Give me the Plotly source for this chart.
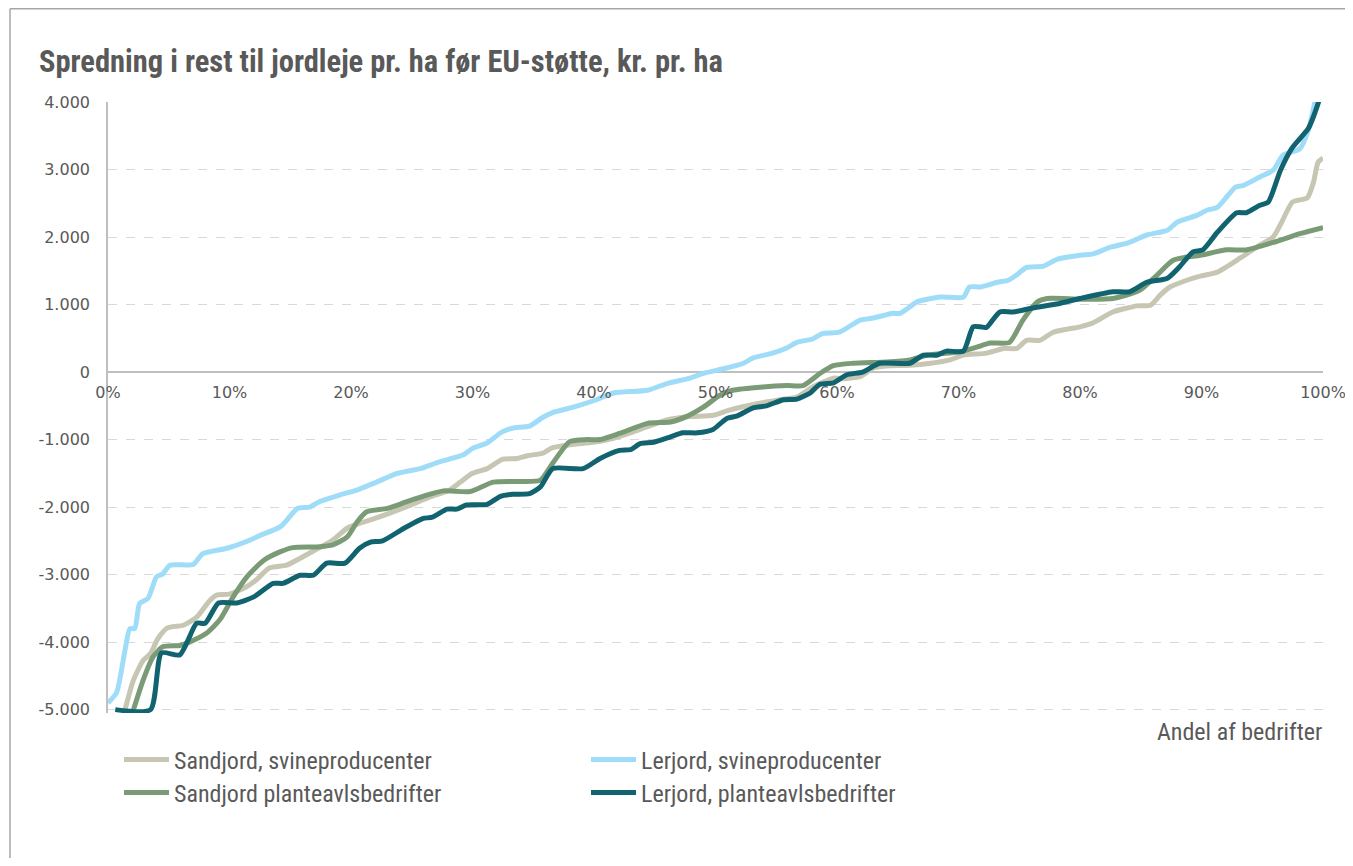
import plotly.graph_objects as go

# ---- data (x = andel af bedrifter in %, y = kr. pr. ha) ----
sand_svin_x = [1.4, 2.1, 2.9, 3.5, 4.1, 4.9, 6.2, 7.3, 8.4, 9.0, 10.0, 11.4, 12.2, 13.3, 14.7, 15.8, 16.9, 18.5, 19.7, 20.7,
               21.6, 23.2, 24.9, 26.5, 28.1, 29.0, 30.0, 31.2, 32.5, 33.7, 34.5, 35.8, 36.6, 38.3, 39.9, 41.6, 44.4, 46.0,
               47.9, 49.8, 51.2, 53.4, 55.3, 56.7, 58.0, 59.7, 60.5, 62.0, 63.0, 64.0, 66.0, 67.7, 69.3, 70.4, 72.3, 73.7,
               74.8, 75.6, 76.7, 77.8, 80.0, 81.1, 82.7, 84.7, 85.8, 86.6, 87.4, 88.8, 89.9, 91.3, 93.2, 94.8, 95.9, 96.6,
               97.5, 98.7, 99.2, 99.6, 100.0]
sand_svin_y = [-5000, -4560, -4270, -4170, -3950, -3790, -3750, -3630, -3380, -3300, -3290, -3180, -3080, -2900, -2860,
               -2760, -2650, -2490, -2310, -2240, -2190, -2090, -1970, -1850, -1750, -1630, -1500, -1430, -1290, -1280,
               -1240, -1200, -1120, -1070, -1040, -980, -810, -710, -660, -640, -560, -470, -410, -370, -220, -90, -100,
               -60, 60, 90, 100, 130, 180, 250, 280, 350, 350, 470, 470, 590, 670, 730, 890, 980, 990, 1140, 1260, 1360,
               1420, 1480, 1690, 1880, 2000, 2220, 2520, 2580, 2800, 3110, 3170]

ler_svin_x = [0.0, 0.7, 1.4, 1.8, 2.2, 2.6, 3.3, 4.0, 4.5, 5.1, 7.0, 7.8, 9.8, 11.4, 12.5, 14.2, 15.6, 16.6, 17.4, 19.1,
              20.6, 22.1, 23.8, 25.7, 27.1, 29.2, 30.0, 31.2, 32.4, 33.3, 34.7, 35.8, 36.6, 38.3, 40.2, 41.6, 44.4, 46.0,
              47.9, 49.0, 50.9, 52.3, 53.1, 54.7, 55.9, 56.7, 58.0, 58.8, 60.2, 61.9, 63.0, 64.6, 65.2, 66.6, 68.5, 70.4,
              70.9, 71.8, 73.2, 74.1, 74.8, 75.6, 77.0, 78.1, 80.0, 81.1, 82.5, 83.9, 85.5, 87.2, 88.0, 89.6, 90.5, 91.3,
              92.1, 92.8, 93.4, 94.8, 95.9, 96.7, 98.1, 98.8, 99.3, 100.0]
ler_svin_y = [-4900, -4750, -4120, -3800, -3800, -3430, -3350, -3030, -2990, -2860, -2850, -2690, -2610, -2510, -2420,
              -2290, -2020, -2000, -1920, -1820, -1740, -1630, -1500, -1430, -1340, -1230, -1130, -1050, -890, -830, -800,
              -670, -600, -520, -410, -310, -270, -170, -90, -20, 60, 130, 210, 280, 360, 440, 490, 570, 590, 770, 800,
              870, 870, 1040, 1110, 1110, 1260, 1260, 1330, 1360, 1440, 1550, 1570, 1670, 1730, 1750, 1850, 1910, 2030,
              2100, 2220, 2320, 2400, 2440, 2600, 2740, 2760, 2890, 2990, 3210, 3310, 3590, 3980, 4800]

sand_plante_x = [2.1, 2.9, 3.7, 4.5, 5.9, 6.7, 8.1, 9.2, 10.3, 11.4, 12.8, 14.2, 15.2, 17.2, 18.5, 19.7, 20.5, 21.3, 23.0,
                 24.6, 26.3, 27.6, 29.8, 31.7, 33.9, 35.6, 36.6, 38.0, 39.4, 40.5, 42.1, 44.4, 46.3, 47.6, 49.0, 50.4,
                 51.4, 53.9, 55.9, 57.2, 58.6, 59.7, 61.3, 64.1, 66.0, 67.4, 70.1, 71.5, 72.6, 74.2, 75.3, 76.5, 77.3,
                 80.0, 82.7, 84.9, 86.3, 87.7, 89.9, 92.1, 93.7, 95.9, 98.1, 100.0]
sand_plante_y = [-5000, -4560, -4220, -4070, -4050, -4000, -3870, -3670, -3330, -3040, -2790, -2660, -2600, -2590, -2560,
                 -2440, -2220, -2070, -2020, -1920, -1820, -1760, -1770, -1630, -1620, -1600, -1350, -1030, -1000, -1000,
                 -910, -760, -740, -660, -520, -340, -270, -220, -200, -200, -20, 95, 130, 150, 180, 250, 300, 370, 430,
                 440, 770, 1040, 1090, 1080, 1090, 1210, 1430, 1660, 1730, 1810, 1810, 1920, 2050, 2140]

ler_plante_x = [0.6, 3.5, 4.4, 5.9, 7.3, 8.0, 9.1, 10.6, 12.0, 13.6, 14.4, 15.8, 16.9, 18.0, 19.5, 20.7, 21.6, 22.6, 24.3,
                25.9, 26.7, 27.9, 28.7, 29.5, 31.2, 32.3, 33.3, 34.7, 35.6, 36.6, 39.1, 40.5, 42.1, 43.0, 43.8, 44.9,
                46.3, 47.3, 48.5, 49.8, 50.9, 51.8, 53.1, 54.2, 55.6, 56.7, 57.8, 58.6, 59.7, 60.8, 62.1, 63.5, 66.0,
                67.1, 68.2, 69.0, 70.4, 71.2, 71.8, 72.3, 73.4, 74.5, 76.1, 78.4, 80.0, 82.7, 84.1, 85.5, 87.2, 88.2,
                89.3, 90.1, 91.3, 92.9, 93.7, 94.8, 95.5, 96.5, 97.5, 98.8, 99.6, 100.0]
ler_plante_y = [-5000, -5000, -4160, -4190, -3720, -3720, -3420, -3420, -3330, -3130, -3130, -3010, -3010, -2830, -2830,
                -2610, -2520, -2500, -2320, -2170, -2150, -2030, -2030, -1970, -1960, -1840, -1810, -1800, -1700, -1430,
                -1430, -1280, -1160, -1150, -1060, -1040, -960, -900, -900, -850, -690, -650, -530, -500, -410, -400,
                -310, -180, -160, -40, 0, 130, 130, 250, 250, 310, 310, 670, 670, 660, 890, 890, 950, 1020, 1090, 1190,
                1190, 1330, 1390, 1560, 1780, 1810, 2070, 2360, 2360, 2470, 2520, 2990, 3330, 3610, 3980, 4300]

series_names = ["Sandjord, svineproducenter", "Lerjord, svineproducenter",
                "Sandjord planteavlsbedrifter", "Lerjord, planteavlsbedrifter"]

y_tick_vals = [4000, 3000, 2000, 1000, 0, -1000, -2000, -3000, -4000, -5000]
y_tick_text = ["4.000", "3.000", "2.000", "1.000", "0", "-1.000", "-2.000", "-3.000", "-4.000", "-5.000"]
x_tick_vals = [0, 10, 20, 30, 40, 50, 60, 70, 80, 90, 100]
x_tick_text = ["0%", "10%", "20%", "30%", "40%", "50%", "60%", "70%", "80%", "90%", "100%"]

title_text = "Spredning i rest til jordleje pr. ha før EU-støtte, kr. pr. ha"
x_title_text = "Andel af bedrifter"

colors = ["#c6c6b2", "#9fdcf8", "#7b9b77", "#10636f"]
legends = ["legend", "legend", "legend2", "legend2"]

NARROW = "Liberation Sans Narrow, Arial Narrow, Roboto Condensed, DejaVu Sans Condensed, sans-serif"
TXT = "#595959"

Y_MIN, Y_MAX = -5050, 4000
y_frac0 = (0 - Y_MIN) / (Y_MAX - Y_MIN)

fig = go.Figure()
data = [(sand_svin_x, sand_svin_y), (ler_svin_x, ler_svin_y),
        (sand_plante_x, sand_plante_y), (ler_plante_x, ler_plante_y)]
for (xs, ys), name, col, lg in zip(data, series_names, colors, legends):
    fig.add_trace(go.Scatter(x=xs, y=ys, mode="lines", name=name, legend=lg,
                             line=dict(color=col, width=5, shape="spline", smoothing=0.6),
                             hoverinfo="x+y+name"))

# page has an 8px body margin; work in reference-picture pixel coordinates
OFF = 8
W, H = 1337, 850
ML, MT = 108 - OFF, 102 - OFF
PLOT_R, PLOT_B = 1323 - OFF, 713 - OFF
MR, MB = W - PLOT_R, H - PLOT_B
pw, ph = PLOT_R - ML, PLOT_B - MT

def px2x(px):
    return (px - OFF - ML) / pw

def py2y(py):
    return (PLOT_B - (py - OFF)) / ph

leg_common = dict(orientation="h", xanchor="left", yanchor="middle",
                  entrywidth=407, entrywidthmode="pixels", itemwidth=45,
                  font=dict(family=NARROW, size=24, color=TXT), bgcolor="rgba(0,0,0,0)",
                  traceorder="normal")

fig.update_layout(
    template="none",
    width=W, height=H,
    margin=dict(l=ML, r=MR, t=MT, b=MB, autoexpand=False),
    paper_bgcolor="white", plot_bgcolor="white",
    showlegend=True,
    legend=dict(x=px2x(119), y=py2y(760), **leg_common),
    legend2=dict(x=px2x(119), y=py2y(793), **leg_common),
    xaxis=dict(range=[0, 100], tickvals=x_tick_vals, ticktext=x_tick_text,
               anchor="free", position=y_frac0, showgrid=False, zeroline=False,
               showline=False, ticks="", ticklabelstandoff=9, ticklabeloverflow="allow",
               automargin=False,
               tickfont=dict(family="DejaVu Sans", size=16, color=TXT), fixedrange=True),
    yaxis=dict(range=[Y_MIN, Y_MAX], tickvals=y_tick_vals, ticktext=y_tick_text,
               showgrid=True, gridcolor="#d9d9d9", griddash="dash", gridwidth=1.3,
               zeroline=True, zerolinecolor="#bfbfbf", zerolinewidth=1.6,
               showline=True, linecolor="#bfbfbf", linewidth=1.6, ticks="",
               ticklabelstandoff=13, ticklabeloverflow="allow", automargin=False,
               tickfont=dict(family="DejaVu Sans", size=16, color=TXT), fixedrange=True),
    annotations=[
        dict(text="<b>" + title_text + "</b>", xref="paper", yref="paper",
             x=px2x(37), y=py2y(62), xanchor="left", yanchor="middle", showarrow=False,
             font=dict(family=NARROW, size=30.5, color=TXT)),
        dict(text=x_title_text, xref="paper", yref="paper",
             x=px2x(1324), y=py2y(732), xanchor="right", yanchor="middle", showarrow=False,
             font=dict(family=NARROW, size=24, color=TXT)),
    ],
    shapes=[
        dict(type="line", xref="paper", yref="paper", x0=px2x(10), x1=px2x(10),
             y0=py2y(H + OFF + 5), y1=py2y(OFF + 0.8), line=dict(color="#a6a6a6", width=1.5)),
        dict(type="line", xref="paper", yref="paper", x0=px2x(10), x1=px2x(W + OFF + 5),
             y0=py2y(OFF + 0.8), y1=py2y(OFF + 0.8), line=dict(color="#a6a6a6", width=1.5)),
    ],
)

fig.write_html("out.html")
